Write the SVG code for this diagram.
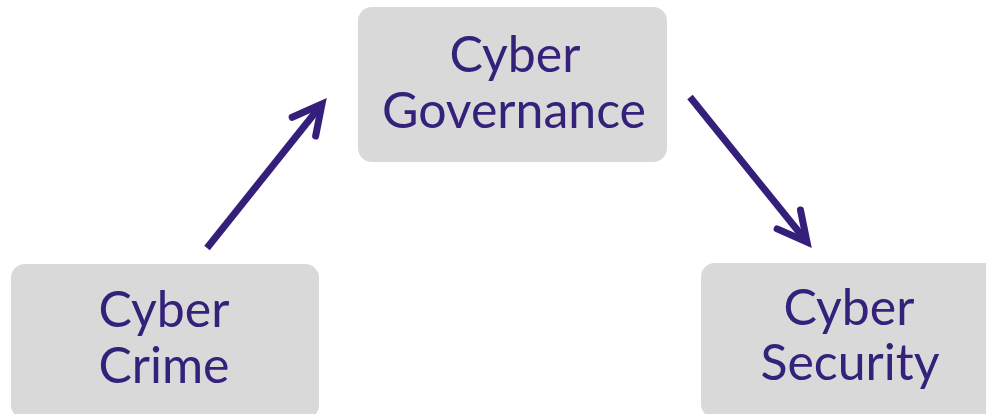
<svg xmlns="http://www.w3.org/2000/svg" width="986" height="414" viewBox="0 0 986 414">
<style>
.box{fill:#d9d9d9}
.lbl{font-family:Lato,"Open Sans","Liberation Sans",sans-serif;font-size:50px;fill:#33217a;text-anchor:middle}
.conn{stroke:#34207a;stroke-width:7;fill:none}
</style>
<defs>
<marker id="arr" markerUnits="userSpaceOnUse" viewBox="-40 -25 50 50" refX="0" refY="0" markerWidth="50" markerHeight="50" orient="auto" overflow="visible">
<path d="M-29,-15 L0,0 L-29,15" fill="none" stroke="#34207a" stroke-width="7" stroke-linecap="round" stroke-linejoin="miter"/>
</marker>
</defs>
<g id="governance">
<rect class="box" x="358" y="7" width="309" height="155" rx="14"/>
<text class="lbl" x="515" y="72">Cyber</text>
<text class="lbl" x="514" y="128">Governance</text>
</g>
<g id="crime">
<rect class="box" x="11" y="264" width="308" height="155" rx="14"/>
<text class="lbl" x="164" y="327">Cyber</text>
<text class="lbl" x="164" y="383">Crime</text>
</g>
<g id="security">
<rect class="box" x="701" y="263" width="309" height="155" rx="14"/>
<text class="lbl" x="849" y="325">Cyber</text>
<text class="lbl" x="850" y="380">Security</text>
</g>
<g id="connectors">
<path class="conn" d="M207,248 L322,104" marker-end="url(#arr)"/>
<path class="conn" d="M690,97 L807,242" marker-end="url(#arr)"/>
</g>
</svg>
